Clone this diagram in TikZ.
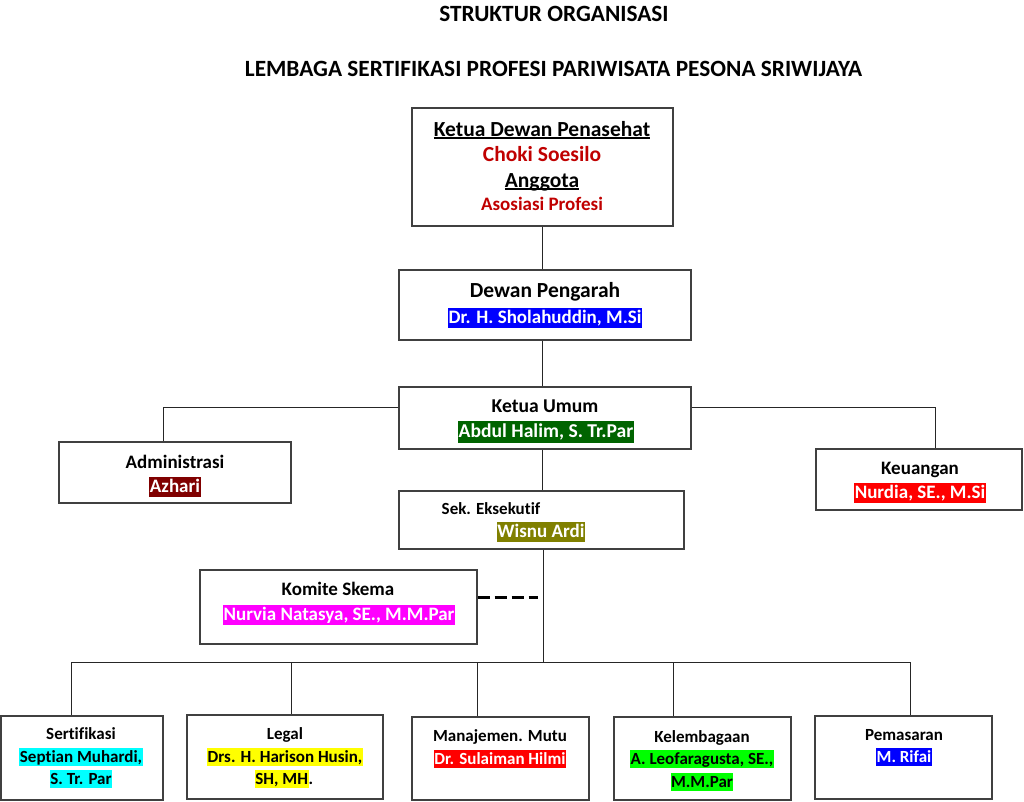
\documentclass[tikz,border=0pt]{standalone}
\usepackage{fontspec}
\setmainfont{Carlito}[Ligatures=CommonOff]
\definecolor{txtred}{HTML}{C00000}
\definecolor{hlblue}{HTML}{0000FF}
\definecolor{hlgreen}{HTML}{006400}
\definecolor{hldred}{HTML}{800000}
\definecolor{hlred}{HTML}{FF0000}
\definecolor{hlolive}{HTML}{808000}
\definecolor{hlmag}{HTML}{FF00FF}
\definecolor{hlcyan}{HTML}{00FFFF}
\definecolor{hlyel}{HTML}{FFFF00}
\definecolor{hllime}{HTML}{00FF00}
\definecolor{boxgray}{HTML}{404040}
\newcommand{\st}{\rule[-0.25em]{0pt}{1.1em}}
\newcommand{\hlx}[3]{{\setlength{\fboxsep}{0pt}\colorbox{#1}{\color{#2}\st\hspace{0.5pt}#3\hspace{0.5pt}}}}
\newsavebox{\ulbox}
\newcommand{\ulx}[1]{\sbox{\ulbox}{#1}\rlap{\rule[-0.1em]{\wd\ulbox}{0.07em}}\usebox{\ulbox}}
\begin{document}
\begin{tikzpicture}[x=1pt,y=-1pt,
  box/.style={draw=boxgray, line width=1.3pt, inner sep=0pt, fill=white},
  conn/.style={draw=black!85, line width=1pt},
  dashline/.style={draw=black, line width=3pt, dash pattern=on 12pt off 5pt},
  txt/.style={inner sep=0pt, font=\bfseries},
  fT/.style={font=\bfseries\fontsize{23.3}{27}\selectfont},
  fA/.style={font=\bfseries\fontsize{21.5}{25}\selectfont},
  fB/.style={font=\bfseries\fontsize{19}{23}\selectfont},
  fBb/.style={font=\bfseries\fontsize{19.6}{23}\selectfont},
  fC/.style={font=\bfseries\fontsize{17}{21}\selectfont}]
\useasboundingbox (0,0) rectangle (1024,801);
\fill[white] (0,0) rectangle (1024,801);
% boxes
\node[box, minimum width=261pt, minimum height=118pt] (top) at (542.5,167) {};
\node[box, minimum width=292pt, minimum height=70pt] (dp) at (545,305) {};
\node[box, minimum width=292pt, minimum height=62pt] (ku) at (545,418) {};
\node[box, minimum width=232pt, minimum height=61pt] (adm) at (175,472.5) {};
\node[box, minimum width=206pt, minimum height=61pt] (keu) at (919,479.5) {};
\node[box, minimum width=285pt, minimum height=58pt] (sek) at (541.5,520) {};
\node[box, minimum width=277pt, minimum height=74pt] (ks) at (338.5,607) {};
\node[box, minimum width=162pt, minimum height=84pt] (sert) at (82,758) {};
\node[box, minimum width=196pt, minimum height=84pt] (legal) at (285,757) {};
\node[box, minimum width=177pt, minimum height=83pt] (mm) at (500.5,758.5) {};
\node[box, minimum width=177pt, minimum height=83pt] (kel) at (702.5,758.5) {};
\node[box, minimum width=177pt, minimum height=83pt] (pem) at (903.5,757.5) {};
% junction coordinates
\coordinate (sp) at (542,0);
\coordinate (sq) at (543,0);
\coordinate (ja) at (163,407);
\coordinate (jk) at (935,407);
\coordinate (b1) at (71,662);
\coordinate (b2) at (291,662);
\coordinate (b3) at (477,662);
\coordinate (b4) at (673,662);
\coordinate (b5) at (910,662);
\coordinate (dk) at (538,597);
% connectors
\draw[conn] (sp |- top.south) -- (sp |- dp.north);
\draw[conn] (sp |- dp.south) -- (sp |- ku.north);
\draw[conn] (sp |- ku.south) -- (sp |- sek.north);
\draw[conn] (sq |- sek.south) -- (sq |- b1);
\draw[conn] (ku.west |- ja) -- (ja) -- (ja |- adm.north);
\draw[conn] (ku.east |- jk) -- (jk) -- (jk |- keu.north);
\draw[conn] (b1) -- (b5);
\draw[conn] (b1) -- (b1 |- sert.north);
\draw[conn] (b2) -- (b2 |- legal.north);
\draw[conn] (b3) -- (b3 |- mm.north);
\draw[conn] (b4) -- (b4 |- kel.north);
\draw[conn] (b5) -- (b5 |- pem.north);
\draw[dashline] (ks.east |- dk) -- (dk);
% titles
\node[txt, fT] (ti1) at (554,15) {\st STRUKTUR ORGANISASI};
\node[txt, fT] (ti2) at (553.5,70) {\st LEMBAGA SERTIFIKASI PROFESI PARIWISATA PESONA SRIWIJAYA};
% top box
\node[txt, fA] (t1a) at (542,130) {\st\ulx{Ketua Dewan Penasehat}};
\node[txt, fA, text=txtred] (t1b) at (542,155) {\st Choki Soesilo};
\node[txt, fA] (t1c) at (542,181) {\st\ulx{Anggota}};
\node[txt, fB, text=txtred] (t1d) at (542,205) {\st Asosiasi Profesi};
% dewan pengarah
\node[txt, fA] (t2a) at (545,291) {\st Dewan Pengarah};
\node[txt, fB] (t2b) at (545,318) {\hlx{hlblue}{white}{Dr. H. Sholahuddin, M.Si}};
% ketua umum
\node[txt, fBb] (t3a) at (545,407) {\st Ketua Umum};
\node[txt, fBb] (t3b) at (546,432) {\hlx{hlgreen}{white}{Abdul Halim, S. Tr.Par}};
% administrasi
\node[txt, fB] (t4a) at (175,463) {\st Administrasi};
\node[txt, fB] (t4b) at (175,487) {\hlx{hldred}{white}{Azhari}};
% keuangan
\node[txt, fB] (t5a) at (920,469) {\st Keuangan};
\node[txt, fB] (t5b) at (920,493) {\hlx{hlred}{white}{Nurdia, SE., M.Si}};
% sek eksekutif
\node[txt, fC] (t6a) at (491,509) {\st Sek. Eksekutif};
\node[txt, fB] (t6b) at (541,532) {\hlx{hlolive}{white}{Wisnu Ardi}};
% komite skema
\node[txt, fB] (t7a) at (338,590) {\st Komite Skema};
\node[txt, fB] (t7b) at (339,615) {\hlx{hlmag}{white}{Nurvia Natasya, SE., M.M.Par}};
% bottom row
\node[txt, fC] (t8a) at (81,734) {\st Sertifikasi};
\node[txt, fC] (t8b) at (81,757) {\hlx{hlcyan}{black}{Septian Muhardi,}};
\node[txt, fC] (t8c) at (81,779) {\hlx{hlcyan}{black}{S. Tr. Par}};
\node[txt, fC] (t9a) at (285,734) {\st Legal};
\node[txt, fC] (t9b) at (285,757) {\hlx{hlyel}{black}{Drs. H. Harison Husin,}};
\node[txt, fC] (t9c) at (284,779) {\hlx{hlyel}{black}{SH, MH}\st.};
\node[txt, fC] (t10a) at (500,736) {\st Manajemen. Mutu};
\node[txt, fC] (t10b) at (500,759) {\hlx{hlred}{white}{Dr. Sulaiman Hilmi}};
\node[txt, fC] (t11a) at (702,737) {\st Kelembagaan};
\node[txt, fC] (t11b) at (702,759) {\hlx{hllime}{black}{A. Leofaragusta, SE.,}};
\node[txt, fC] (t11c) at (702,782) {\hlx{hllime}{black}{M.M.Par}};
\node[txt, fC] (t12a) at (904,735) {\st Pemasaran};
\node[txt, fC] (t12b) at (904,757) {\hlx{hlblue}{white}{M. Rifai}};
\end{tikzpicture}
\end{document}
